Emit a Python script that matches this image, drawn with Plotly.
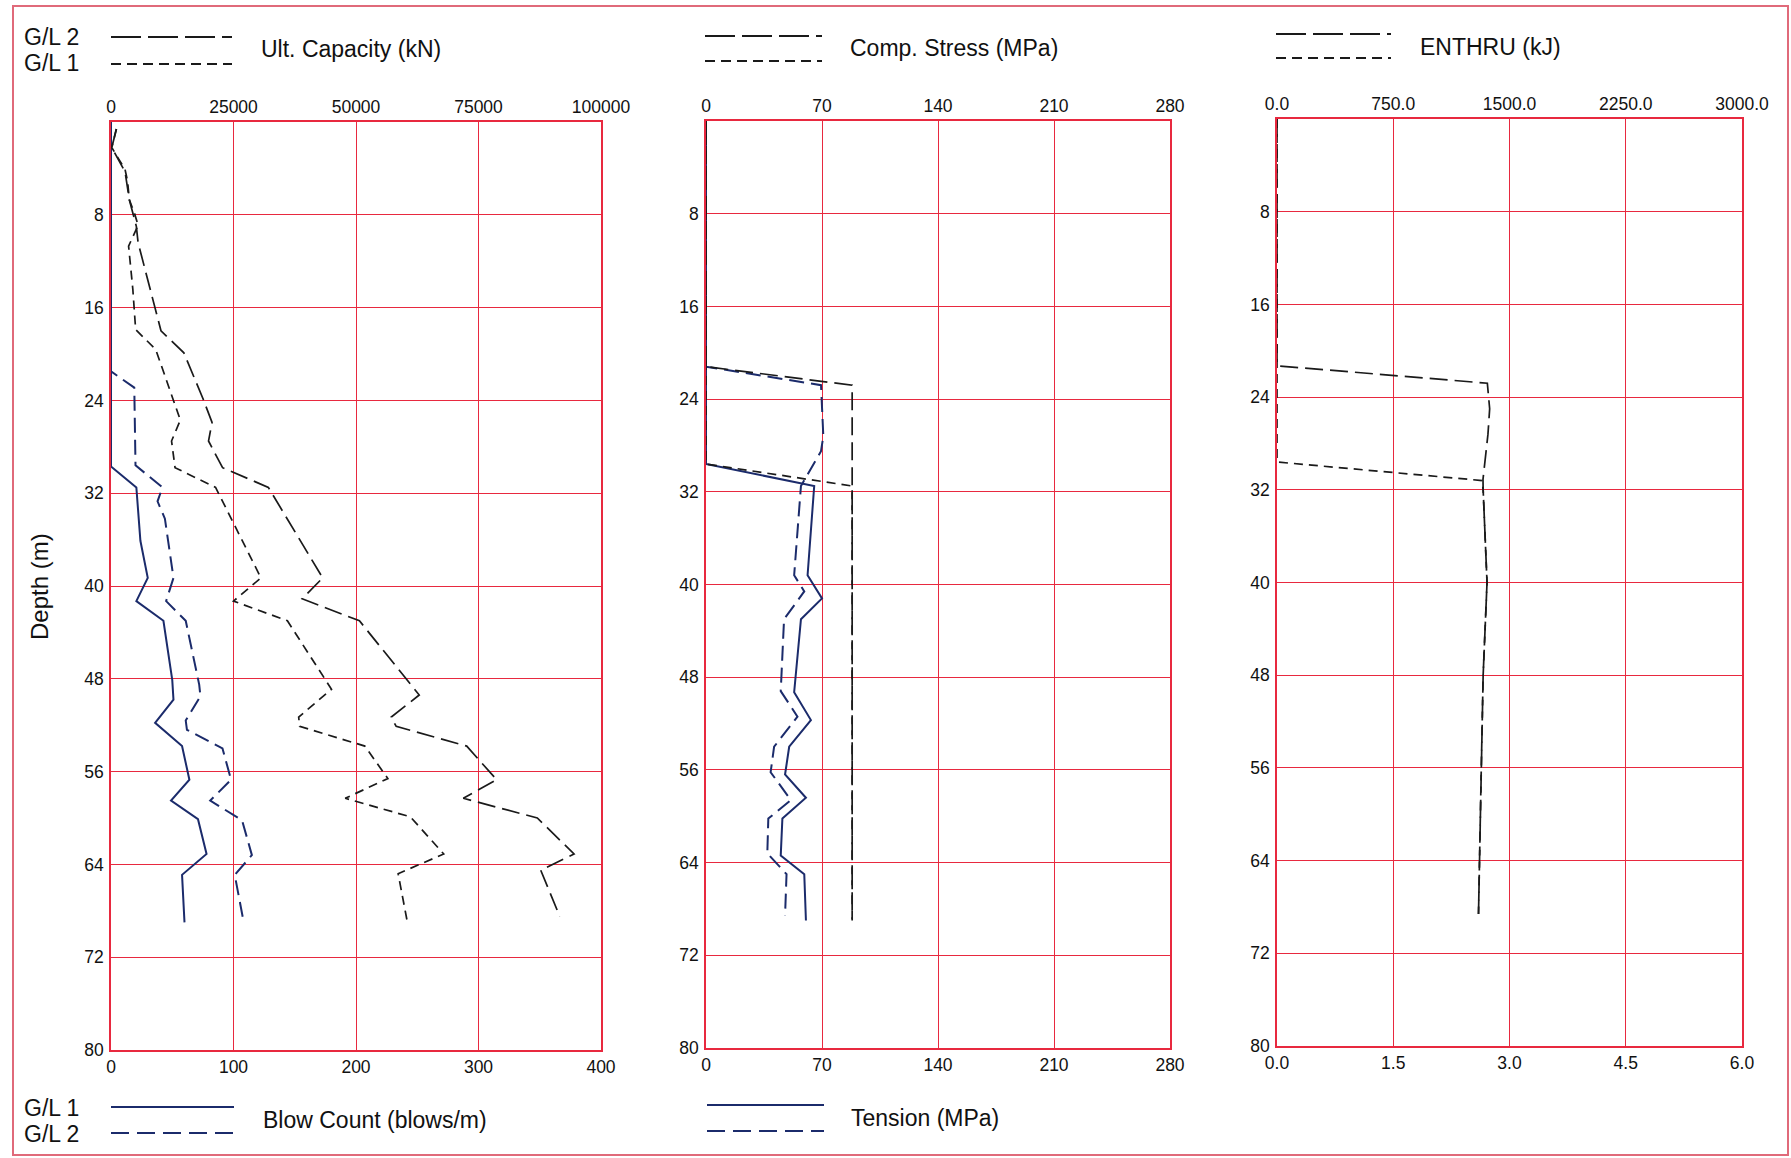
import plotly.graph_objects as go

# ---------------- DATA ----------------
depth_ticks = [8, 16, 24, 32, 40, 48, 56, 64, 72, 80]

# Panel 1 - Ultimate capacity (kN), top axis
cap_ticks = [0, 25000, 50000, 75000, 100000]
cap_gl1_depth = [0.6, 2.2, 4.1, 5.1, 6.7, 7.9, 8.9, 9.9, 10.7, 14.4, 17.9, 19.6, 24.0, 25.7, 27.5,
                 29.8, 31.5, 39.3, 41.3, 43.0, 48.9, 51.3, 52.1, 53.8, 56.6, 58.3, 59.9, 63.1, 64.8, 68.8]
cap_gl1 = [1100, 150, 2870, 3380, 3740, 4810, 5530, 4450, 3590, 4450, 5030, 9120, 12700, 14150, 12360,
           13070, 21340, 30600, 25000, 36000, 45000, 38300, 38500, 51800, 56500, 47800, 61100, 67900, 58600, 60400]
cap_gl2_depth = [0.6, 2.2, 4.3, 6.7, 9.0, 10.4, 18.0, 19.9, 23.9, 25.9, 27.5, 29.8, 31.5, 39.3, 41.1,
                 43.0, 49.4, 51.3, 52.1, 53.8, 56.7, 58.3, 60.0, 63.1, 64.5, 68.5]
cap_gl2 = [1100, 150, 2870, 3740, 5170, 5530, 10200, 14870, 18820, 20620, 19900, 22770, 32110, 43200, 39000,
           50700, 62900, 57200, 58200, 72600, 78700, 71900, 87000, 94500, 87700, 91600]

# Panel 1 - Blow count (blows/m), bottom axis
bc_ticks = [0, 100, 200, 300, 400]
bc_gl1_depth = [0, 29.7, 31.5, 36.1, 39.3, 41.3, 43.0, 48.1, 49.8, 51.8, 53.8, 56.7, 58.5, 60.1, 63.1, 64.9, 69.0]
bc_gl1 = [0, 0, 20.7, 24, 30, 20.7, 42.8, 50, 51, 36, 58, 64, 49, 71, 78, 58, 60]
bc_gl2_depth = [0, 21.5, 22.9, 29.6, 31.5, 32.7, 34.2, 39.3, 41.3, 43.0, 48.5, 49.5, 51.6, 52.4, 54.0,
                56.7, 58.5, 60.2, 63.2, 64.9, 68.8]
bc_gl2 = [0, 0, 19, 20, 42, 38, 44, 51, 45, 61, 72, 73, 61, 62, 91, 98, 81, 107, 115, 101, 108]

# Panel 2 - Compression stress (MPa), top axis ; Tension (MPa), bottom axis
mpa_ticks = [0, 70, 140, 210, 280]
cs_gl1_depth = [0, 29.6, 31.5, 69.0]
cs_gl1 = [0, 0, 88.2, 88.2]
cs_gl2_depth = [0, 21.2, 22.8, 69.0]
cs_gl2 = [0, 0, 88.2, 88.2]
ten_gl1_depth = [0, 29.6, 31.5, 39.2, 41.2, 43.0, 49.3, 51.7, 54.0, 56.4, 58.4, 60.2, 63.4, 65.0, 69.0]
ten_gl1 = [0, 0, 65.3, 61.3, 70.0, 57.3, 53.2, 63.3, 50.2, 47.7, 60.3, 46.1, 45.1, 59.3, 60.3]
ten_gl2_depth = [0, 21.2, 22.8, 27.2, 28.5, 30.9, 31.5, 39.2, 40.6, 43.0, 49.2, 51.4, 54.0, 56.2, 58.6,
                 60.2, 63.2, 65.0, 68.6]
ten_gl2 = [0, 0, 69.4, 70.8, 69.4, 59.3, 57.3, 53.2, 59.3, 47.1, 45.1, 55.2, 41.1, 39.0, 51.2,
           37.6, 37.0, 48.6, 47.7]

# Panel 3 - ENTHRU (kJ), top axis ; bottom axis 0-6
en_ticks = [0, 750, 1500, 2250, 3000]
en_ticktext = ["0.0", "750.0", "1500.0", "2250.0", "3000.0"]
p3_bottom_ticks = [0, 1.5, 3.0, 4.5, 6.0]
p3_bottom_text = ["0.0", "1.5", "3.0", "4.5", "6.0"]
en_gl1_depth = [0, 29.6, 31.2, 32.0, 40.0, 48.0, 56.0, 64.0, 68.6]
en_gl1 = [0, 0, 1322, 1330, 1355, 1330, 1318, 1306, 1300]
en_gl2_depth = [0, 21.3, 22.8, 25.0, 27.2, 31.1, 32.0, 40.0, 48.0, 56.0, 64.0, 68.6]
en_gl2 = [0, 0, 1357, 1372, 1361, 1329, 1330, 1355, 1330, 1318, 1306, 1300]

# ---------------- STYLE ----------------
W, H = 1791, 1158
FONT = "Liberation Sans, Arial, sans-serif"
GRID = "#e8293f"
BORDER = "#e06a7a"
NAVY = "#1b2b6b"
BLACK = "#1a1a1a"
LONG = "18px,7px"
SHORT = "9px,6px"
NAVYDASH = "15px,7px"
TICKFONT = dict(family=FONT, size=17.5, color="#111111")
TXTFONT = dict(family=FONT, size=23, color="#111111")


def fx(p):
    return p / W


def fy(p):
    return 1 - p / H


panels = {
    1: dict(x=(111, 601), y=(122, 1050)),
    2: dict(x=(706, 1170), y=(121, 1048)),
    3: dict(x=(1277, 1742), y=(119, 1046)),
}

fig = go.Figure()


def line(x, y, xa, ya, color, dash, width, name):
    fig.add_trace(go.Scatter(x=x, y=y, xaxis=xa, yaxis=ya, mode="lines", name=name,
                             line=dict(color=color, dash=dash, width=width), showlegend=False,
                             hoverinfo="skip"))


# Panel 1
line(bc_gl1, bc_gl1_depth, "x", "y", NAVY, "solid", 2.0, "Blow Count G/L 1")
line(bc_gl2, bc_gl2_depth, "x", "y", NAVY, NAVYDASH, 2.0, "Blow Count G/L 2")
line(cap_gl1, cap_gl1_depth, "x2", "y", BLACK, SHORT, 1.7, "Ult. Capacity G/L 1")
line(cap_gl2, cap_gl2_depth, "x2", "y", BLACK, LONG, 1.7, "Ult. Capacity G/L 2")
# Panel 2
line(ten_gl1, ten_gl1_depth, "x3", "y2", NAVY, "solid", 2.0, "Tension G/L 1")
line(ten_gl2, ten_gl2_depth, "x3", "y2", NAVY, NAVYDASH, 2.0, "Tension G/L 2")
line(cs_gl1, cs_gl1_depth, "x4", "y2", BLACK, SHORT, 1.7, "Comp. Stress G/L 1")
line(cs_gl2, cs_gl2_depth, "x4", "y2", BLACK, LONG, 1.7, "Comp. Stress G/L 2")
# Panel 3
fig.add_trace(go.Scatter(x=[None], y=[None], xaxis="x5", yaxis="y3", mode="lines", showlegend=False))
line(en_gl1, en_gl1_depth, "x6", "y3", BLACK, SHORT, 1.7, "ENTHRU G/L 1")
line(en_gl2, en_gl2_depth, "x6", "y3", BLACK, LONG, 1.7, "ENTHRU G/L 2")


def xax(dom, rng, tv, tt, side, overlay=None, anchor="y", grid=True):
    d = dict(domain=[fx(dom[0]), fx(dom[1])], range=rng, tickvals=tv, ticktext=tt, side=side,
             anchor=anchor, showgrid=grid, gridcolor=GRID, gridwidth=1.3, zeroline=False,
             showline=True, linecolor=GRID, linewidth=1.6, mirror=True, ticks="",
             tickfont=TICKFONT, fixedrange=True, automargin=False)
    if overlay:
        d["overlaying"] = overlay
    return d


def yax(dom, anchor):
    return dict(domain=[fy(dom[1]), fy(dom[0])], range=[80, 0], tickvals=depth_ticks,
                ticktext=[str(v) for v in depth_ticks], anchor=anchor, showgrid=True,
                gridcolor=GRID, gridwidth=1.3, zeroline=False, showline=True, linecolor=GRID,
                linewidth=1.6, mirror=True, ticks="", tickfont=TICKFONT, fixedrange=True,
                ticklabelstandoff=2, automargin=False)


p1, p2, p3 = panels[1], panels[2], panels[3]
fig.update_layout(
    width=W, height=H, margin=dict(l=0, r=0, t=0, b=0, pad=0, autoexpand=False),
    paper_bgcolor="white", plot_bgcolor="white", showlegend=False,
    xaxis=xax(p1["x"], [0, 400], bc_ticks, [str(v) for v in bc_ticks], "bottom", anchor="y"),
    xaxis2=xax(p1["x"], [0, 100000], cap_ticks, [str(v) for v in cap_ticks], "top", overlay="x",
               anchor="y", grid=False),
    yaxis=yax(p1["y"], "x"),
    xaxis3=xax(p2["x"], [0, 280], mpa_ticks, [str(v) for v in mpa_ticks], "bottom", anchor="y2"),
    xaxis4=xax(p2["x"], [0, 280], mpa_ticks, [str(v) for v in mpa_ticks], "top", overlay="x3",
               anchor="y2", grid=False),
    yaxis2=yax(p2["y"], "x3"),
    xaxis5=xax(p3["x"], [0, 6], p3_bottom_ticks, p3_bottom_text, "bottom", anchor="y3"),
    xaxis6=xax(p3["x"], [0, 3000], en_ticks, en_ticktext, "top", overlay="x5", anchor="y3", grid=False),
    yaxis3=yax(p3["y"], "x5"),
)

# Outer border
fig.add_shape(type="rect", xref="paper", yref="paper", x0=fx(13), x1=fx(1788), y0=fy(1155), y1=fy(6),
              line=dict(color=BORDER, width=2), layer="below")


def seg(x0, x1, y, color, dash, width=1.8):
    fig.add_shape(type="line", xref="paper", yref="paper", x0=fx(x0), x1=fx(x1), y0=fy(y), y1=fy(y),
                  line=dict(color=color, dash=dash, width=width))


def txt(x, y, s, anchor="left", angle=0, size=23):
    f = dict(TXTFONT)
    f["size"] = size
    fig.add_annotation(xref="paper", yref="paper", x=fx(x), y=fy(y), text=s, showarrow=False,
                       xanchor=anchor, yanchor="middle", textangle=angle, font=f)


LEG_LONG = "30px,7px"
LEG_SHORT = "10px,6px"
LEG_NAVY = "18px,8px"

# Top legends
txt(22, 37, "G/L 2")
txt(22, 63, "G/L 1")
seg(111, 232, 37, BLACK, LEG_LONG)
seg(111, 232, 64, BLACK, LEG_SHORT)
txt(259, 49, "Ult. Capacity (kN)")

seg(705, 822, 36, BLACK, LEG_LONG)
seg(705, 822, 61, BLACK, LEG_SHORT)
txt(848, 48, "Comp. Stress (MPa)")

seg(1276, 1391, 34, BLACK, LEG_LONG)
seg(1276, 1391, 58, BLACK, LEG_SHORT)
txt(1418, 47, "ENTHRU (kJ)")

# Bottom legends
txt(22, 1108, "G/L 1")
txt(22, 1134, "G/L 2")
seg(111, 234, 1107, NAVY, "solid", 2.0)
seg(111, 234, 1133, NAVY, LEG_NAVY, 2.0)
txt(261, 1120, "Blow Count (blows/m)")

seg(707, 824, 1105, NAVY, "solid", 2.0)
seg(707, 824, 1131, NAVY, LEG_NAVY, 2.0)
txt(849, 1118, "Tension (MPa)")

# Depth axis title
txt(39, 587, "Depth (m)", anchor="center", angle=-90, size=24)

fig.write_html("out.html", config={"displayModeBar": False},
               post_script="document.body.style.margin='0';document.body.style.overflow='hidden';")
